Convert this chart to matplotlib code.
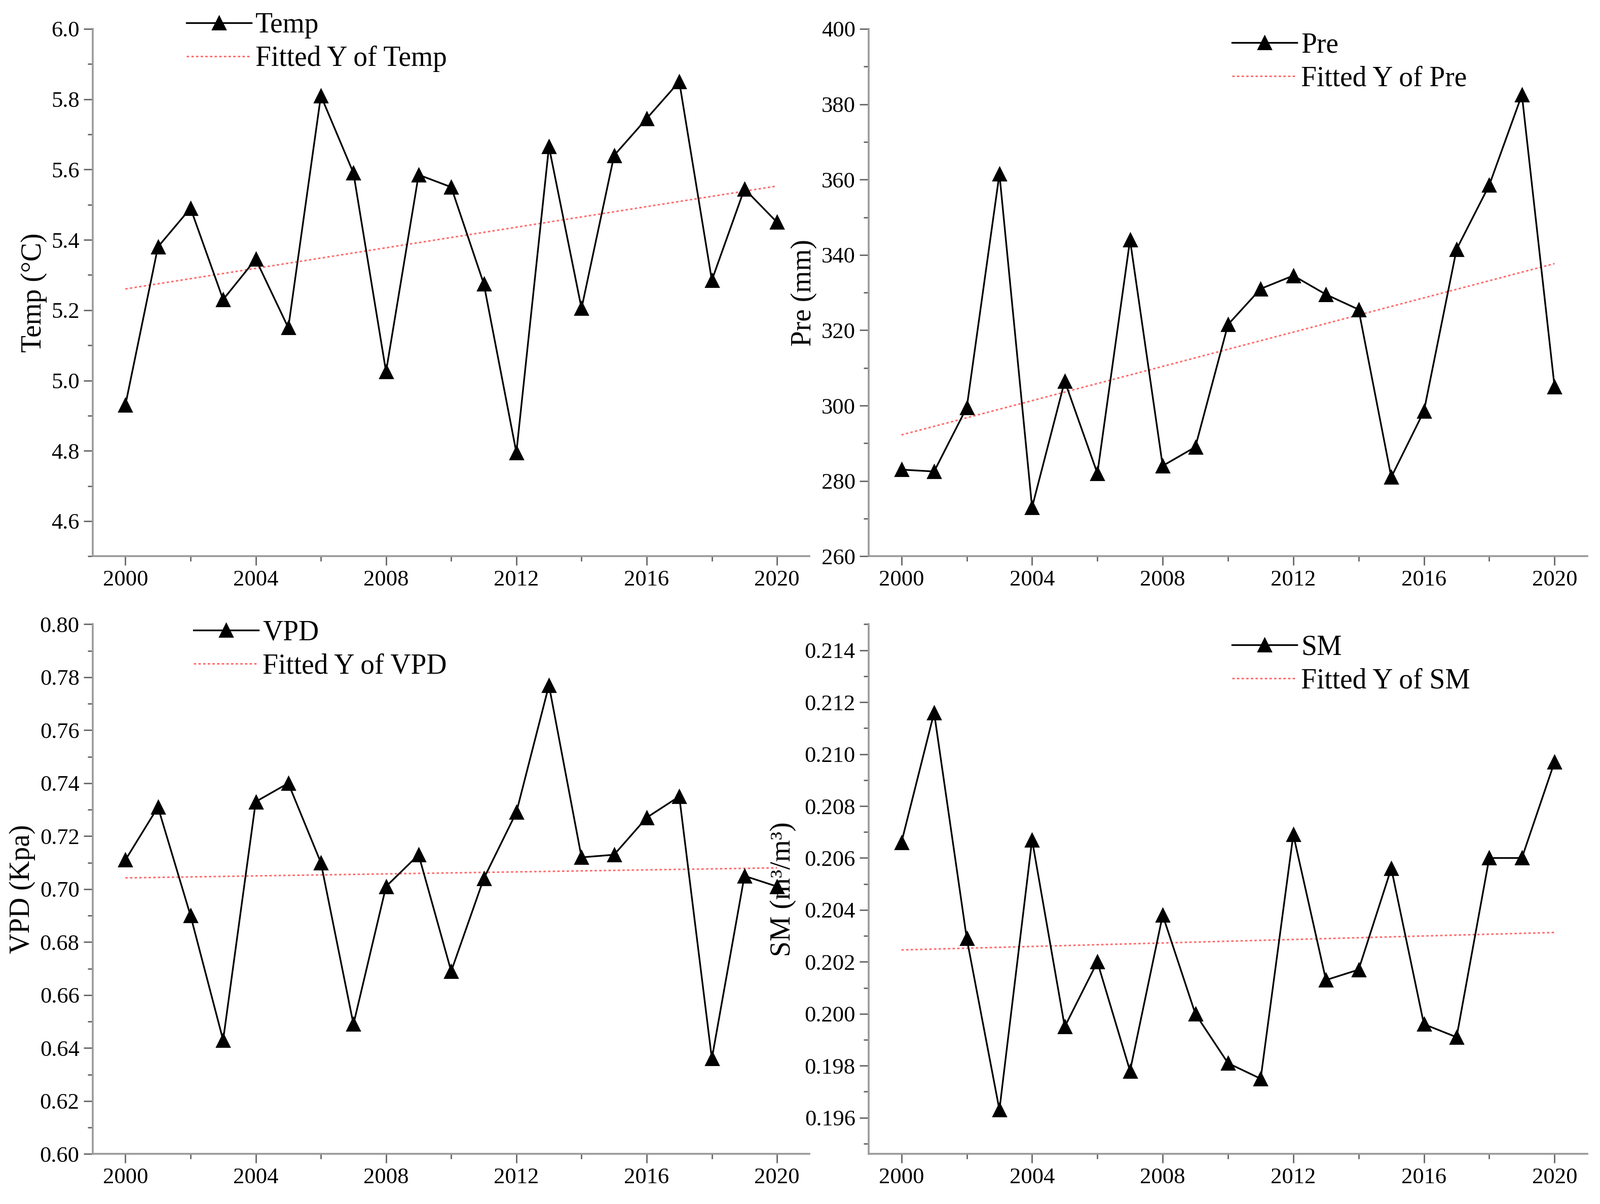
import numpy as np
import matplotlib
matplotlib.use("Agg")
import matplotlib.pyplot as plt
from matplotlib.ticker import MultipleLocator

plt.rcParams['font.family'] = ['Liberation Serif', 'DejaVu Serif']

## Data ##
years = np.arange(2000, 2021)

temp = [4.93, 5.38, 5.49, 5.23, 5.345, 5.15, 5.81, 5.59, 5.025, 5.585, 5.55,
        5.275, 4.795, 5.665, 5.205, 5.64, 5.745, 5.85, 5.285, 5.545, 5.45]
pre = [283, 282.5, 299.5, 361.5, 273, 306.5, 282, 344, 284, 289, 321.5,
       331, 334.5, 329.5, 325.5, 281, 298.5, 341.5, 358.5, 382.5, 305]
vpd = [0.711, 0.731, 0.690, 0.643, 0.733, 0.740, 0.710, 0.649, 0.701, 0.713, 0.669,
       0.704, 0.729, 0.777, 0.712, 0.713, 0.727, 0.735, 0.636, 0.705, 0.701]
sm = [0.2066, 0.2116, 0.2029, 0.1963, 0.2067, 0.1995, 0.2020, 0.1978, 0.2038, 0.2000, 0.1981,
      0.1975, 0.2069, 0.2013, 0.2017, 0.2056, 0.1996, 0.1991, 0.2060, 0.2060, 0.2097]

names = ["Temp", "Pre", "VPD", "SM"]
ylabels = ["Temp (°C)", "Pre (mm)", "VPD (Kpa)", "SM (m³/m³)"]
series = [temp, pre, vpd, sm]
ylims = [(4.5, 6.0), (260, 400), (0.60, 0.80), (0.1946, 0.215)]
major = [0.2, 20, 0.02, 0.002]
fmts = ["%.1f", "%d", "%.2f", "%.3f"]

## Layout ##
fig = plt.figure(figsize=(15.785, 11.875), dpi=200)
positions = [[0.058, 0.538, 0.448, 0.438],
             [0.543, 0.538, 0.449, 0.438],
             [0.058, 0.0415, 0.448, 0.44],
             [0.543, 0.0415, 0.449, 0.44]]
legend_anchor = [(0.115, 1.053), (0.49, 1.015), (0.125, 1.03), (0.49, 1.002)]
label_pads = [3, 3, 3, 6]

for i in range(4):
    ax = fig.add_axes(positions[i])
    y = np.array(series[i])
    slope, intercept = np.polyfit(years, y, 1)
    ax.plot(years, y, color='black', lw=1.2, marker='^', markersize=9.5,
            label=names[i], zorder=3)
    ax.plot(years, slope * years + intercept, color='#ff6a6a', lw=1.1,
            ls=(0, (1.5, 1.5)), label="Fitted Y of " + names[i], zorder=2)

    ax.set_xlim(1999, 2021)
    ax.set_ylim(*ylims[i])
    ax.xaxis.set_major_locator(MultipleLocator(4))
    ax.xaxis.set_minor_locator(MultipleLocator(2))
    ax.yaxis.set_major_locator(MultipleLocator(major[i]))
    ax.yaxis.set_minor_locator(MultipleLocator(major[i] / 2))
    ax.yaxis.set_major_formatter(plt.FormatStrFormatter(fmts[i]))

    ax.spines['top'].set_visible(False)
    ax.spines['right'].set_visible(False)
    for s in ['left', 'bottom']:
        ax.spines[s].set_color('#9a9a9a')
        ax.spines[s].set_linewidth(1.3)
    ax.tick_params(which='both', direction='out', labelsize=16, width=1.0,
                   color='#666666', labelcolor='black')
    ax.tick_params(which='major', length=6.5, pad=3)
    ax.tick_params(which='minor', length=3.6)
    ax.set_ylabel(ylabels[i], fontsize=20, labelpad=label_pads[i])

    ax.legend(loc='upper left', bbox_to_anchor=legend_anchor[i], frameon=False,
              fontsize=20, handlelength=2.3, handletextpad=0.15, labelspacing=0.25,
              borderaxespad=0)

plt.savefig("out.png", dpi=200)
